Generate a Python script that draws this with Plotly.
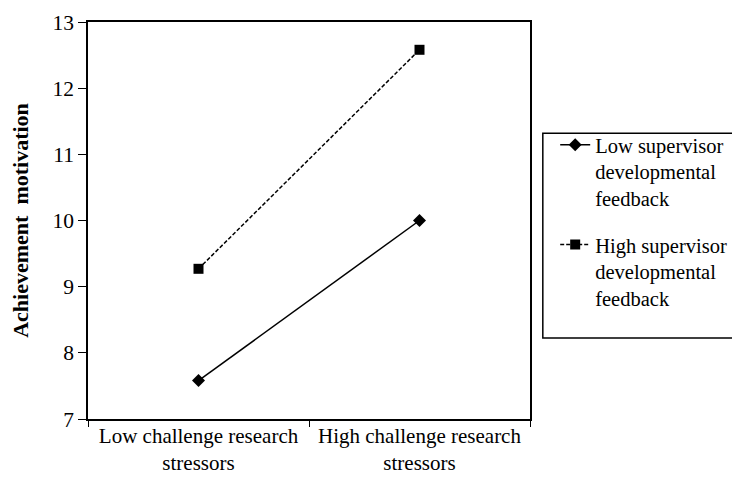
import plotly.graph_objects as go

categories = ["Low challenge research<br>stressors", "High challenge research<br>stressors"]
low_feedback = [7.58, 10.0]
high_feedback = [9.27, 12.58]
series_names = ["Low supervisor<br>developmental<br>feedback", "High supervisor<br>developmental<br>feedback"]
y_ticks = [7, 8, 9, 10, 11, 12, 13]

FONT = "Liberation Serif"

fig = go.Figure()
fig.add_trace(go.Scatter(
    x=categories, y=low_feedback, name=series_names[0], mode="lines+markers",
    line=dict(color="black", width=1.5),
    marker=dict(symbol="diamond", size=10, color="black"),
    legendgroup="a",
))
fig.add_trace(go.Scatter(
    x=categories, y=high_feedback, name=series_names[1], mode="lines+markers",
    line=dict(color="black", width=1.5, dash="4px,2px"),
    marker=dict(symbol="square", size=10, color="black"),
    legendgroup="b",
))

fig.update_layout(
    width=740, height=477,
    margin=dict(l=80, r=218, t=14, b=66),
    paper_bgcolor="white", plot_bgcolor="white",
    font=dict(family=FONT, size=21, color="black"),
    showlegend=True,
    legend=dict(
        x=1.057, y=0.741, xanchor="left", yanchor="top",
        font=dict(family=FONT, size=20.5, color="black"),
        tracegroupgap=17, valign="top",
        bgcolor="rgba(0,0,0,0)",
    ),
    xaxis=dict(
        type="category", range=[-0.5, 1.5], automargin=False,
        showline=True, linecolor="black", linewidth=1.5, mirror=True,
        ticks="outside", tickson="boundaries", ticklen=6, tickcolor="black",
        showgrid=False, zeroline=False, ticklabelstandoff=-3,
        tickfont=dict(family=FONT, size=21, color="black"),
    ),
    yaxis=dict(
        range=[7, 13], tickvals=y_ticks, automargin=False,
        showline=True, linecolor="black", linewidth=1.5, mirror=True,
        ticks="outside", ticklen=8, tickcolor="black",
        showgrid=False, zeroline=False,
        tickfont=dict(family=FONT, size=21.5, color="black"),
        title=dict(text="<b>Achievement  motivation</b>", font=dict(family=FONT, size=22, color="black"), standoff=18),
    ),
    shapes=[dict(
        type="rect", xref="paper", yref="paper",
        x0=1.029, x1=1.495, y0=0.204, y1=0.72,
        line=dict(color="black", width=1.5), fillcolor="rgba(0,0,0,0)",
    )],
)

fig.write_html("out.html")
